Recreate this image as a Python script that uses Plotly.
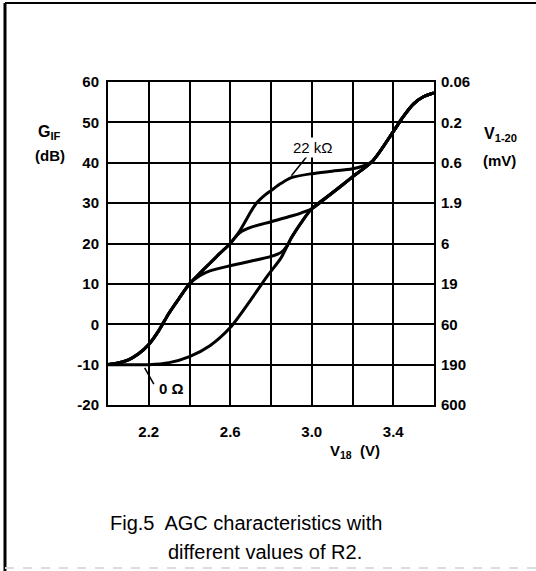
import plotly.graph_objects as go

# ---- data ----
v_common = [2.0, 2.05, 2.1, 2.15, 2.2, 2.25, 2.3, 2.35, 2.4]
g_common = [-10, -9.6, -8.8, -7.3, -5.0, -1.5, 2.8, 6.5, 10.0]

v_0ohm = [2.0, 2.1, 2.2, 2.3, 2.4, 2.5, 2.6, 2.7, 2.78, 2.85, 2.9, 2.95, 3.0, 3.1, 3.2, 3.3, 3.4, 3.45, 3.5, 3.55, 3.6]
g_0ohm = [-10, -10, -10, -9.5, -8.0, -5.3, -0.8, 6.0, 11.8, 16.5, 21.4, 25.3, 28.6, 32.5, 36.5, 40.5, 47.7, 51.5, 54.6, 56.4, 57.3]

v_mid1 = [2.45, 2.5, 2.6, 2.7, 2.8, 2.85, 2.88]
g_mid1 = [12.0, 13.2, 14.5, 15.6, 16.8, 17.8, 19.5]

v_mid2 = [2.45, 2.5, 2.55, 2.6, 2.62, 2.65, 2.7, 2.8, 2.9, 2.95]
g_mid2 = [12.6, 15.1, 17.6, 20.0, 21.3, 22.8, 24.0, 25.4, 26.8, 27.6]

v_22k = [2.45, 2.5, 2.55, 2.6, 2.65, 2.7, 2.73, 2.77, 2.8, 2.85, 2.9, 3.0, 3.1, 3.2, 3.28]
g_22k = [12.6, 15.1, 17.6, 20.0, 23.4, 27.8, 30.1, 32.0, 33.1, 34.9, 36.3, 37.3, 37.9, 38.5, 39.8]

x_ticks = [2.2, 2.6, 3.0, 3.4]
x_ticklabels = ["2.2", "2.6", "3.0", "3.4"]
x_grid = [2.0, 2.4, 2.8, 3.2, 3.6]
y_ticks = [60, 50, 40, 30, 20, 10, 0, -10, -20]
y_ticklabels = ["60", "50", "40", "30", "20", "10", "0", "-10", "-20"]
y2_ticklabels = ["0.06", "0.2", "0.6", "1.9", "6", "19", "60", "190", "600"]

FONT = "Liberation Sans, Arial, sans-serif"
LW = 3

def tail_join(v, g, vt, gt):
    """continue a branch along the 0-ohm curve after it merges"""
    last = v[-1]
    xs = list(v) + [a for a in vt if a > last + 1e-9]
    ys = list(g) + [b for a, b in zip(vt, gt) if a > last + 1e-9]
    return xs, ys

fig = go.Figure()

line_style = dict(color="black", width=LW, shape="spline", smoothing=0.8)

fig.add_trace(go.Scatter(x=v_0ohm, y=g_0ohm, mode="lines", line=line_style,
                         hoverinfo="skip", showlegend=False))

for vb, gb in [(v_mid1, g_mid1), (v_mid2, g_mid2), (v_22k, g_22k)]:
    xs, ys = tail_join(v_common + vb, g_common + gb, v_0ohm, g_0ohm)
    fig.add_trace(go.Scatter(x=xs, y=ys, mode="lines", line=line_style,
                             hoverinfo="skip", showlegend=False))

fig.add_trace(go.Scatter(x=[2.0, 3.6], y=[-20, 60], yaxis="y2", mode="lines",
                         line=dict(color="rgba(0,0,0,0)", width=0),
                         hoverinfo="skip", showlegend=False))

tickfont = dict(size=15, family=FONT, color="black", weight="bold")

fig.update_layout(
    width=536, height=571,
    margin=dict(l=108, r=102, t=82, b=166),
    paper_bgcolor="white", plot_bgcolor="white",
    font=dict(family=FONT, color="black", size=15),
    xaxis=dict(range=[2.0, 3.6], tickvals=x_ticks, ticktext=x_ticklabels,
               showgrid=True, gridcolor="black", gridwidth=2,
               minor=dict(tickvals=x_grid, showgrid=True, gridcolor="black", gridwidth=2, ticks=""),
               showline=True, linecolor="black", linewidth=2, mirror=True,
               zeroline=False, ticks="", ticklabelstandoff=12, tickfont=tickfont),
    yaxis=dict(range=[-20, 60], tickvals=y_ticks, ticktext=y_ticklabels,
               showgrid=True, gridcolor="black", gridwidth=1.6,
               showline=True, linecolor="black", linewidth=2, mirror=True,
               zeroline=False, ticks="", ticklabelstandoff=4, tickfont=tickfont),
    yaxis2=dict(range=[-20, 60], tickvals=y_ticks, ticktext=y2_ticklabels,
                overlaying="y", side="right", showgrid=False, zeroline=False,
                showline=False, ticks="", ticklabelstandoff=6, tickfont=tickfont),
)

def px2paper(px, py):
    return (px - 108) / 326.0, (405 - py) / 323.0

annots = []
def add_paper_text(text, px, py, size=15, xanchor="center", bold=True):
    x, y = px2paper(px, py)
    f = dict(size=size, family=FONT, color="black")
    if bold:
        f["weight"] = "bold"
    annots.append(dict(text=text, x=x, y=y, xref="paper", yref="paper",
                       xanchor=xanchor, yanchor="middle", showarrow=False, font=f))

add_paper_text("G<sub>IF</sub>", 49, 132, size=16)
add_paper_text("(dB)", 50, 155)
add_paper_text("V<sub>1-20</sub>", 500, 134, size=16)
add_paper_text("(mV)", 499, 160)
add_paper_text("V<sub>18</sub>  (V)", 355, 452)
add_paper_text("Fig.5  AGC characteristics with", 108, 523, size=20, xanchor="left", bold=False)
add_paper_text("different values of R2.", 166, 552, size=20, xanchor="left", bold=False)

annots.append(dict(text="22 kΩ", x=3.004, y=43.9, xref="x", yref="y",
                   showarrow=False, font=dict(size=15, family=FONT, color="black"),
                   bgcolor="white"))
annots.append(dict(text="0 Ω", x=2.314, y=-16.0, xref="x", yref="y",
                   showarrow=False, font=dict(size=15, family=FONT, color="black", weight="bold"),
                   bgcolor="white"))
fig.update_layout(annotations=annots)

shapes = [
    dict(type="line", xref="x", yref="y", x0=2.90, y0=36.8, x1=2.975, y1=41.5,
         line=dict(color="black", width=1.5)),
    dict(type="line", xref="x", yref="y", x0=2.18, y0=-10.8, x1=2.225, y1=-14.8,
         line=dict(color="black", width=1.5)),
]
lx, ty = px2paper(5, 3)
rx, by = px2paper(536, 568)
shapes.append(dict(type="line", xref="paper", yref="paper", x0=lx, y0=ty, x1=rx, y1=ty,
                   line=dict(color="black", width=2)))
shapes.append(dict(type="line", xref="paper", yref="paper", x0=lx, y0=ty, x1=lx, y1=px2paper(5, 571)[1],
                   line=dict(color="black", width=3)))
shapes.append(dict(type="line", xref="paper", yref="paper", x0=lx, y0=by, x1=rx, y1=by,
                   line=dict(color="#dddddd", width=2, dash="dash")))
fig.update_layout(shapes=shapes)

fig.write_html("out.html", config={"displayModeBar": False},
               post_script="document.body.style.margin='0';document.body.style.overflow='hidden';")
